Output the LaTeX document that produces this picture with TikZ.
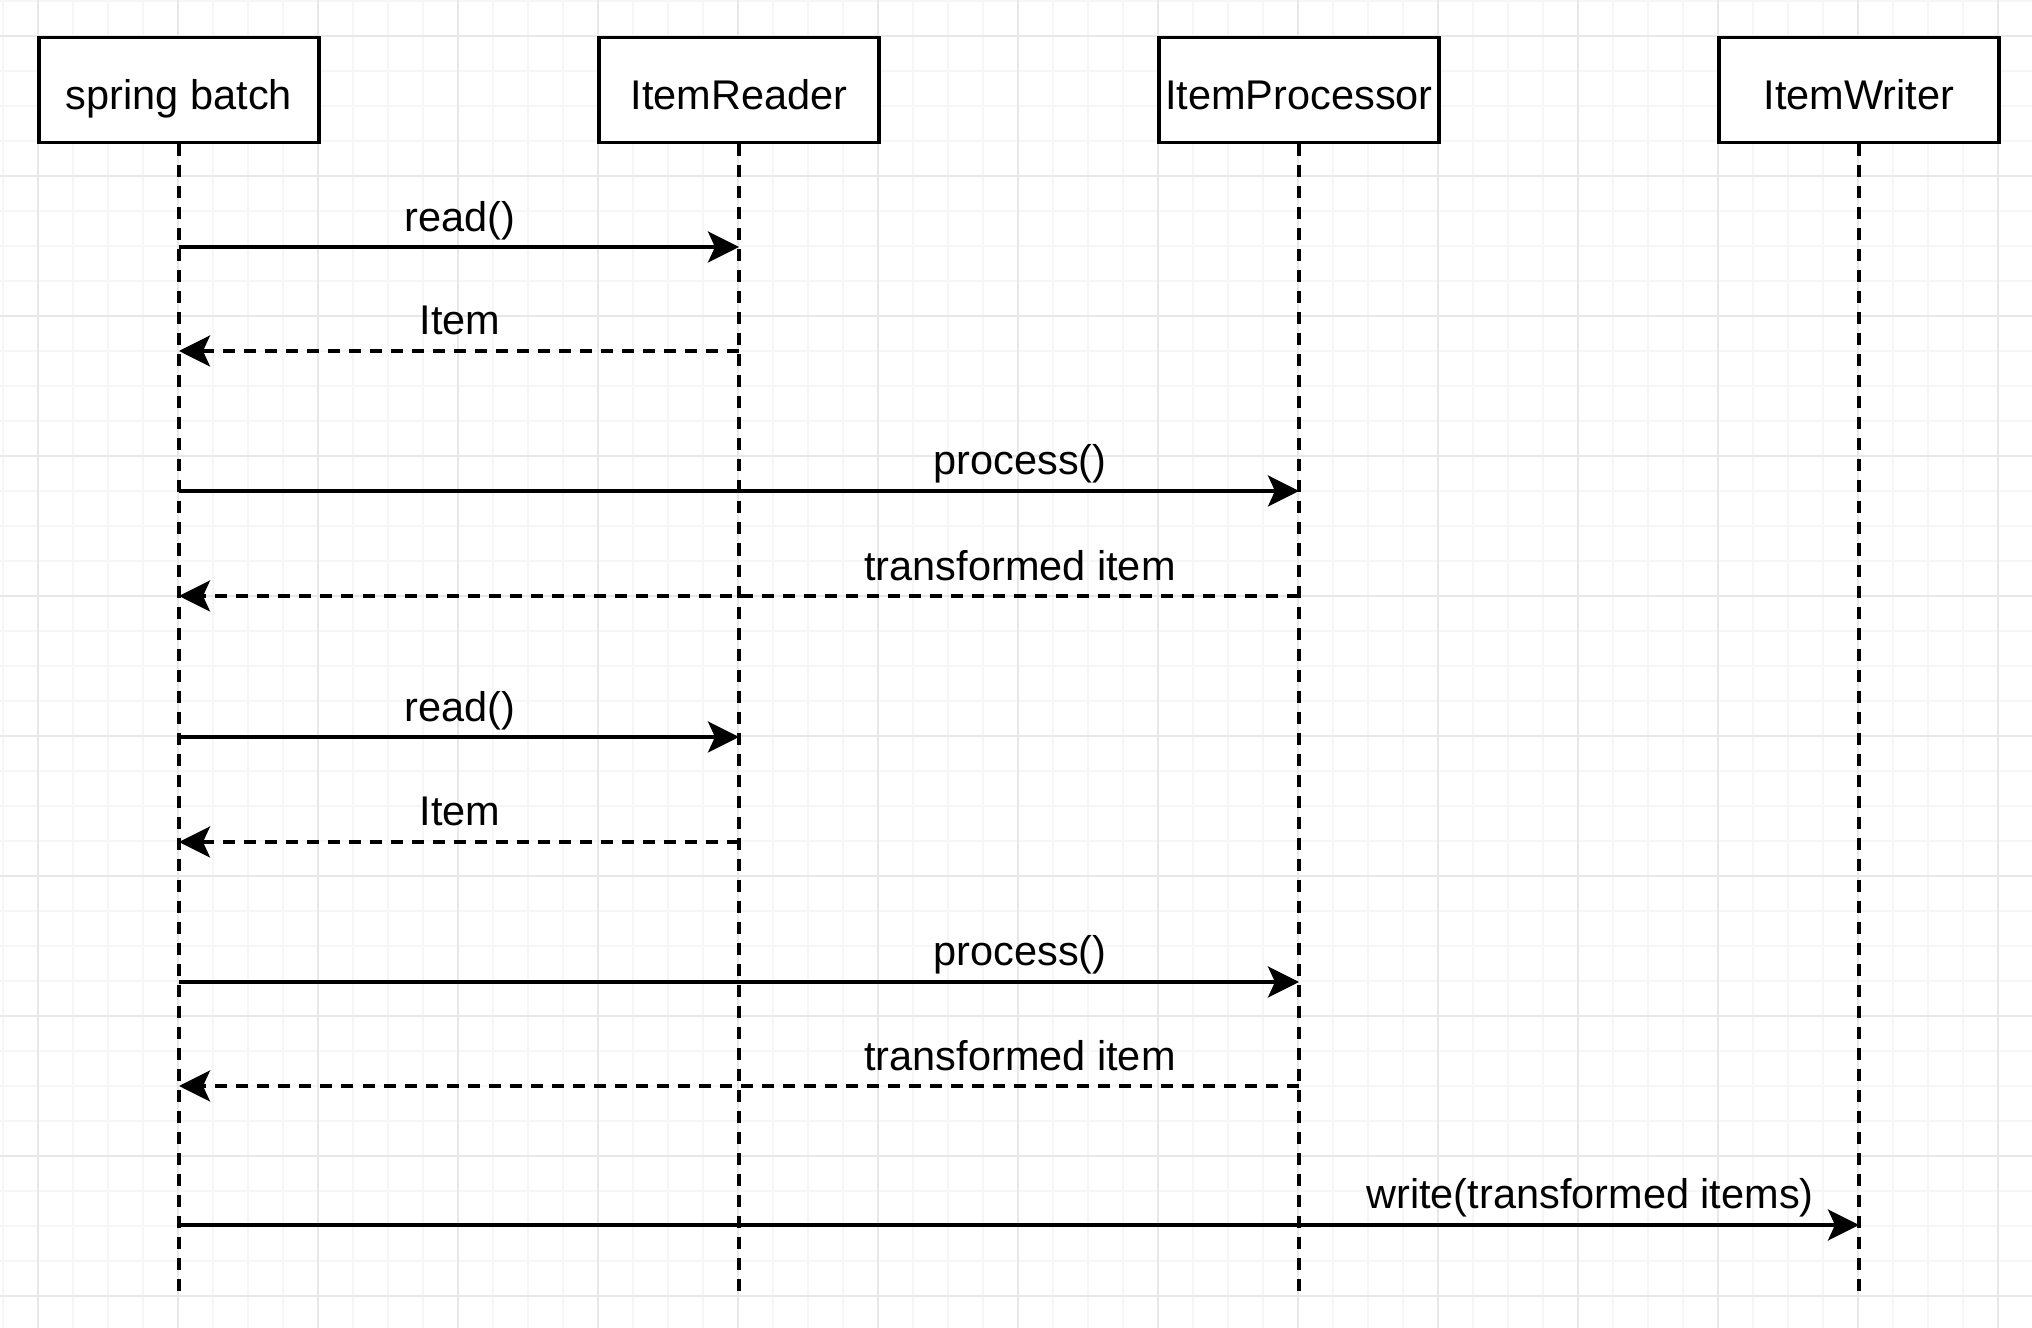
\documentclass[tikz,border=0pt]{standalone}
\usepackage{fontspec}
\setmainfont{Liberation Sans}
\usetikzlibrary{arrows.meta}
\definecolor{gridminor}{HTML}{F6F6F6}
\definecolor{gridmajor}{HTML}{E8E8E8}
\tikzset{
  actor/.style={draw, line width=1pt, fill=white, minimum width=2.8cm,
    minimum height=1.05cm, inner sep=0pt, text height=0.48cm, text depth=0.1cm},
  lifeline/.style={line width=0.9pt, dash pattern=on 0.12cm off 0.09cm},
  call/.style={line width=0.95pt, -{Stealth[length=0.31cm, width=0.31cm, inset=0.07cm]}},
  reply/.style={call, dash pattern=on 0.12cm off 0.09cm},
  msg/.style={anchor=base, inner sep=0pt},
}
\begin{document}
\begin{tikzpicture}[x=0.01cm, y=-0.01cm, font=\fontsize{11.8}{14}\selectfont]
                \useasboundingbox (0,0) rectangle (2032,1328);
                \fill[white] (0,0) rectangle (2032,1328);
                % Grid
                \foreach \x in {3,38,...,2032} \draw[gridminor, line width=0.4pt] (\x,0) -- (\x,1328);
                \foreach \y in {1,36,...,1328} \draw[gridminor, line width=0.4pt] (0,\y) -- (2032,\y);
                \foreach \x in {38,178,...,2032} \draw[gridmajor, line width=0.4pt] (\x,0) -- (\x,1328);
                \foreach \y in {36,176,...,1328} \draw[gridmajor, line width=0.4pt] (0,\y) -- (2032,\y);

                % Participants
                \node[actor] (batch) at (179,90) {spring batch};
                \node[actor] (reader) at (739,90) {ItemReader};
                \node[actor] (processor) at (1299,90) {ItemProcessor};
                \node[actor] (writer) at (1859,90) {ItemWriter};

                % Lifelines
                \path (179,1297) coordinate (batchend);
                \path (739,1297) coordinate (readerend);
                \path (1299,1297) coordinate (processorend);
                \path (1859,1297) coordinate (writerend);
                \draw[lifeline] (batch.south) -- (batchend);
                \draw[lifeline] (reader.south) -- (readerend);
                \draw[lifeline] (processor.south) -- (processorend);
                \draw[lifeline] (writer.south) -- (writerend);

                % First item
                \path (179,247) coordinate (b1) (739,247) coordinate (r1);
                \path (179,351) coordinate (b2) (739,351) coordinate (r2);
                \path (179,491) coordinate (b3) (1299,491) coordinate (p3);
                \path (179,596) coordinate (b4) (1299,596) coordinate (p4);
                \draw[call] (b1) -- (r1);
                \draw[reply] (r2) -- (b2);
                \draw[call] (b3) -- (p3);
                \draw[reply] (p4) -- (b4);
                \node[msg] (read1) at (460,232) {read()};
                \node[msg] (item1) at (460,335) {Item};
                \node[msg] (process1) at (1020,475) {process()};
                \node[msg] (result1) at (1020,581) {transformed item};

                % Second item
                \path (179,737) coordinate (b5) (739,737) coordinate (r5);
                \path (179,842) coordinate (b6) (739,842) coordinate (r6);
                \path (179,982) coordinate (b7) (1299,982) coordinate (p7);
                \path (179,1086) coordinate (b8) (1299,1086) coordinate (p8);
                \draw[call] (b5) -- (r5);
                \draw[reply] (r6) -- (b6);
                \draw[call] (b7) -- (p7);
                \draw[reply] (p8) -- (b8);
                \node[msg] (read2) at (460,722) {read()};
                \node[msg] (item2) at (460,826) {Item};
                \node[msg] (process2) at (1020,966) {process()};
                \node[msg] (result2) at (1020,1071) {transformed item};

                % Write chunk
                \path (179,1225) coordinate (b9) (1859,1225) coordinate (w9);
                \draw[call] (b9) -- (w9);
                \node[msg] (write) at (1590,1209) {write(transformed items)};
\end{tikzpicture}
\end{document}
